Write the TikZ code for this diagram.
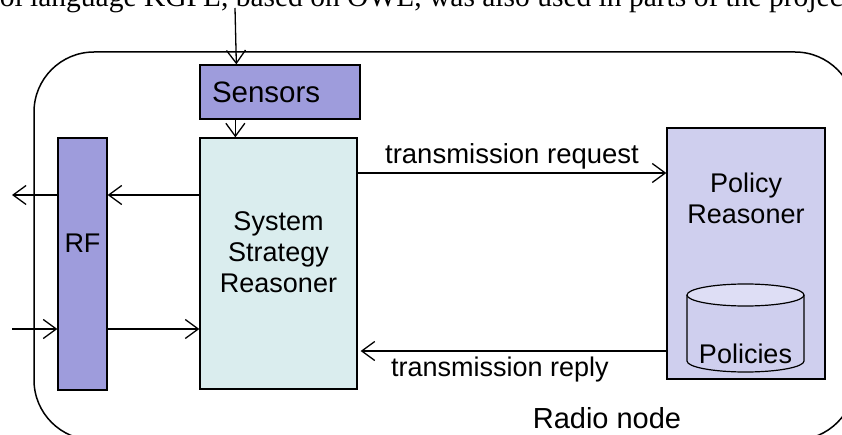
\documentclass[tikz,border=0pt]{standalone}
\usepackage{fontspec}
\setmainfont{Liberation Serif}
\setsansfont{Liberation Sans}
\usetikzlibrary{arrows.meta}

\definecolor{rfcol}{HTML}{9E9CDC}
\definecolor{ssrcol}{HTML}{DAEDEE}
\definecolor{polcol}{HTML}{CFCFEE}
\definecolor{cyltop}{HTML}{DEDEF5}

\begin{document}
\begin{tikzpicture}[x=1pt,y=-1pt,
  box/.style={draw=black, line width=1.3pt, inner sep=0pt},
  lbl/.style={font=\sffamily\fontsize{27}{31}\selectfont, align=center, inner sep=0pt},
  arr/.style={line width=1.3pt, -{Straight Barb[length=13pt,width=19pt,line width=1.3pt]}}
]
\useasboundingbox (0,0) rectangle (842,435);
\clip (0,0) rectangle (842,435);

% running text line above the figure
\node[anchor=base west, inner sep=0pt, font=\rmfamily\fontsize{29.5}{34}\selectfont]
  (caption) at (-61,7) {control language KGPL, based on OWL, was also used in parts of the project};

% enclosing radio node
\node[draw, line width=1.5pt, rounded corners=60pt, minimum width=821pt, minimum height=388pt,
  inner sep=0pt] (radio) at (444.5,246) {};
\node[lbl, font=\sffamily\fontsize{29}{33}\selectfont] (radiolbl) at (607,418) {Radio node};

% blocks
\node[box, fill=rfcol, minimum width=49pt, minimum height=252pt] (rf) at (82.5,264) {};
\node[lbl] (rflbl) at (82.5,243) {RF};

\node[box, fill=rfcol, minimum height=54pt, text width=136pt, inner xsep=12pt, align=left,
  font=\sffamily\fontsize{29.5}{33}\selectfont] (sens) at (280,92) {Sensors};

\node[box, fill=ssrcol, minimum width=157pt, minimum height=251pt] (ssr) at (278.5,263.5) {};
\node[lbl] (ssrlbl) at (278.5,252) {System\\Strategy\\Reasoner};

\node[box, fill=polcol, minimum width=158pt, minimum height=251pt] (pol) at (746,253.5) {};
\node[lbl] (pollbl) at (746,198) {Policy\\Reasoner};

% policy store (cylinder)
\path[draw=black, line width=1.2pt, fill=polcol]
  (687,295) -- (687,361) arc[start angle=180, end angle=360, x radius=58.5pt, y radius=11pt]
  -- (804,295);
\draw[line width=1.2pt, fill=cyltop] (745.5,295) ellipse[x radius=58.5pt, y radius=11pt];
\node[lbl] (dblbl) at (745.5,354) {Policies};

% connector levels
\coordinate (src) at (235,8);
\coordinate (yup) at (0,195);
\coordinate (ydn) at (0,329);
\coordinate (yreq) at (0,173);
\coordinate (yrep) at (0,351);
\coordinate (outL) at (12,195);
\coordinate (inL) at (12,329);

% connectors
\draw[arr] (src) -- ([xshift=37pt]sens.north west);
\draw[arr] ([xshift=36pt]sens.south west) -- ([xshift=36pt]ssr.north west);
\draw[arr] (ssr.west |- yup) -- (rf.east |- yup);
\draw[arr] (rf.west |- yup) -- (outL);
\draw[arr] (inL) -- (rf.west |- ydn);
\draw[arr] (rf.east |- ydn) -- (ssr.west |- ydn);
\draw[arr] (ssr.east |- yreq) -- node[lbl, font=\sffamily\fontsize{27.5}{31}\selectfont, above=3pt] (reqlbl) {transmission request} (pol.west |- yreq);
\draw[arr, shorten >=3pt] (pol.west |- yrep) -- (ssr.east |- yrep);
\node[lbl] (replbl) at (500,370) {transmission reply};
\end{tikzpicture}
\end{document}
